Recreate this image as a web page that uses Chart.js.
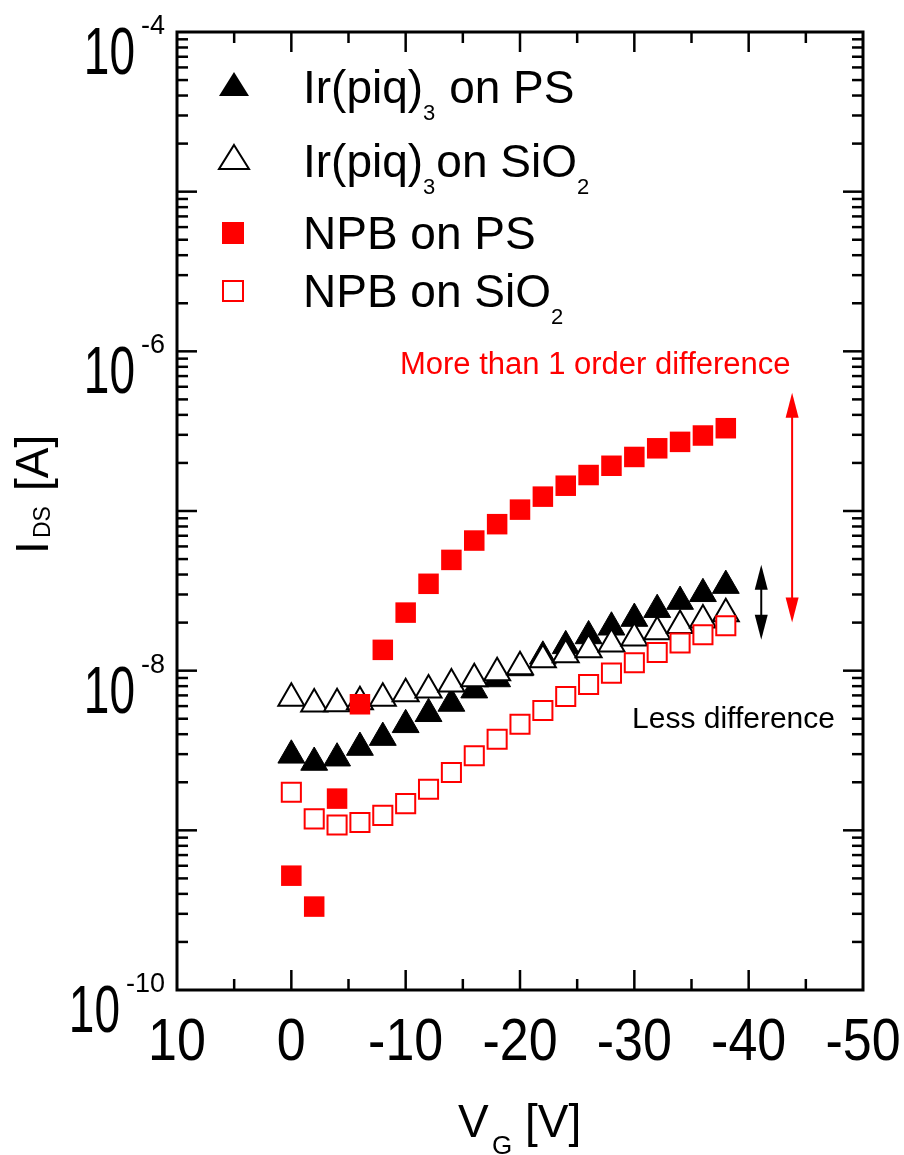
<!DOCTYPE html>
<html><head><meta charset="utf-8">
<script src="https://cdn.jsdelivr.net/npm/chart.js@4.4.1/dist/chart.umd.min.js"></script>
<style>html,body{margin:0;padding:0;background:#fff;}canvas{display:block;}</style>
</head><body>
<canvas id="c" width="904" height="1155"></canvas>
<script>
// ---- data ----
const VG = [0,-2,-4,-6,-8,-10,-12,-14,-16,-18,-20,-22,-24,-26,-28,-30,-32,-34,-36,-38];
const irPS    = [2.95e-9,2.66e-9,2.83e-9,3.3e-9,3.81e-9,4.58e-9,5.37e-9,6.23e-9,7.55e-9,8.87e-9,1.04e-8,1.23e-8,1.43e-8,1.65e-8,1.87e-8,2.12e-8,2.41e-8,2.71e-8,3.03e-8,3.41e-8];
const irSiO2  = [6.73e-9,6.19e-9,6.21e-9,6.38e-9,6.73e-9,7.16e-9,7.58e-9,8.26e-9,8.89e-9,9.72e-9,1.06e-8,1.17e-8,1.26e-8,1.35e-8,1.47e-8,1.6e-8,1.75e-8,1.92e-8,2.08e-8,2.27e-8];
const npbPS   = [5.2e-10,3.33e-10,1.58e-9,6.16e-9,1.35e-8,2.31e-8,3.5e-8,4.94e-8,6.53e-8,8.27e-8,1.02e-7,1.23e-7,1.44e-7,1.68e-7,1.92e-7,2.18e-7,2.47e-7,2.71e-7,2.97e-7,3.3e-7];
const npbSiO2 = [1.73e-9,1.18e-9,1.08e-9,1.12e-9,1.24e-9,1.47e-9,1.81e-9,2.3e-9,2.93e-9,3.72e-9,4.62e-9,5.63e-9,6.89e-9,8.2e-9,9.65e-9,1.12e-8,1.3e-8,1.49e-8,1.68e-8,1.91e-8];
const xTickValues = [10,0,-10,-20,-30,-40,-50];
const xTickLabels = ['10','0','-10','-20','-30','-40','-50'];
const yTickValues = [1e-10,1e-8,1e-6,1e-4];
const yTickExps   = ['-10','-8','-6','-4'];

const FONT = '"Liberation Sans", Arial, Helvetica, sans-serif';
const f = px => px + 'px ' + FONT;
const pts = arr => VG.map((v,i)=>({x:v, y:arr[i]}));

const decor = {
  id:'decor',
  afterDraw(chart){
    const ctx = chart.ctx, xs = chart.scales.x, ys = chart.scales.y, a = chart.chartArea;
    ctx.save();
    ctx.strokeStyle = '#000'; ctx.fillStyle = '#000';
    const ln = (x1,y1,x2,y2)=>{ctx.beginPath();ctx.moveTo(x1,y1);ctx.lineTo(x2,y2);ctx.stroke();};
    // minor/major ticks (inward, all four sides)
    ctx.lineWidth = 2.5;
    for (let d=-10; d<=-5; d++){
      for (let m=1; m<=9; m++){
        const y = ys.getPixelForValue(m*Math.pow(10,d));
        const len = m===1 ? 20 : 11;
        if (m===1 && d===-10) continue;
        ln(a.left,y,a.left+len,y); ln(a.right,y,a.right-len,y);
      }
    }
    for (let v=5; v>-50; v-=5){
      const x = xs.getPixelForValue(v);
      const len = (v%10===0) ? 20 : 11;
      ln(x,a.bottom,x,a.bottom-len); ln(x,a.top,x,a.top+len);
    }
    // frame
    ctx.lineWidth = 3;
    ctx.strokeRect(a.left, a.top, a.right-a.left, a.bottom-a.top);

    // y tick labels 10^n
    ctx.textBaseline = 'alphabetic';
    yTickValues.forEach((v,i)=>{
      const y = ys.getPixelForValue(v);
      const xr = a.left - 12;
      ctx.font = f(27);
      const sw = ctx.measureText(yTickExps[i]).width;
      ctx.textAlign = 'right';
      ctx.fillText(yTickExps[i], xr, y + 2);
      ctx.save();
      ctx.translate(xr - sw - 6, y + 42);
      ctx.scale(1, 1.46);
      ctx.font = f(46);
      ctx.fillText('10', 0, 0);
      ctx.restore();
    });
    // x tick labels
    xTickValues.forEach((v,i)=>{
      const x = xs.getPixelForValue(v);
      ctx.save();
      ctx.translate(x, a.bottom + 70);
      ctx.scale(1, 1.15);
      ctx.font = f(52); ctx.textAlign = 'center';
      ctx.fillText(xTickLabels[i], 0, 0);
      ctx.restore();
    });
    // x title  V_G [V]
    ctx.textAlign = 'left';
    const cx = (a.left + a.right)/2;
    ctx.font = f(46); ctx.fillText('V', cx - 62, 1137);
    ctx.font = f(26); ctx.fillText('G', cx - 28, 1154);
    ctx.font = f(46); ctx.fillText('[V]', cx + 5, 1137);
    // y title  I_DS [A]
    ctx.save();
    ctx.translate(48, 556);
    ctx.rotate(-Math.PI/2);
    ctx.font = f(46); ctx.fillText('I', 2, 0);
    ctx.font = f(23); ctx.fillText('DS', 18, 2);
    ctx.font = f(46); ctx.fillText('[A]', 65, 0);
    ctx.restore();

    // legend
    const tri = (cx, top, bot, hw, filled)=>{
      ctx.beginPath(); ctx.moveTo(cx, top); ctx.lineTo(cx+hw, bot); ctx.lineTo(cx-hw, bot); ctx.closePath();
      if (filled){ctx.fillStyle='#000';ctx.fill();} else {ctx.fillStyle='#fff';ctx.fill();ctx.lineWidth=2;ctx.strokeStyle='#000';ctx.stroke();}
    };
    const sq = (x,y,s,filled)=>{
      if (filled){ctx.fillStyle='#ff0000';ctx.fillRect(x,y,s,s);} else {ctx.lineWidth=2;ctx.strokeStyle='#ff0000';ctx.strokeRect(x+1,y+1,s-2,s-2);}
    };
    tri(234, 72, 96, 15, true);
    tri(234, 145, 169, 15, false);
    sq(222, 222, 22, true);
    sq(222, 280, 22, false);
    ctx.fillStyle = '#000';
    const row = (parts, x, base)=>{
      parts.forEach(p=>{
        ctx.font = f(p.sub ? 22 : 46);
        ctx.fillText(p.t, x, base + (p.sub ? 17 : 0));
        x += ctx.measureText(p.t).width + (p.sub ? 1 : 0);
      });
    };
    row([{t:'Ir(piq)'},{t:'3',sub:true},{t:' on PS'}], 303, 103);
    row([{t:'Ir(piq)'},{t:'3',sub:true},{t:'on SiO'},{t:'2',sub:true}], 303, 177);
    row([{t:'NPB on PS'}], 303, 249);
    row([{t:'NPB on SiO'},{t:'2',sub:true}], 303, 307);

    // annotations
    ctx.fillStyle = '#ff0000'; ctx.font = f(31);
    ctx.fillText('More than 1 order difference', xs.getPixelForValue(-9.5), ys.getPixelForValue(7.2e-7));
    ctx.fillStyle = '#000'; ctx.font = f(30);
    ctx.fillText('Less difference', xs.getPixelForValue(-29.8), ys.getPixelForValue(4.38e-9));
    const arrow = (v, top, bot, col)=>{
      const x = xs.getPixelForValue(v), y1 = ys.getPixelForValue(top), y2 = ys.getPixelForValue(bot);
      const hl = 25, hw = 6.5;
      ctx.strokeStyle = col; ctx.fillStyle = col; ctx.lineWidth = 2;
      ln(x, y1 + hl - 2, x, y2 - hl + 2);
      ctx.beginPath(); ctx.moveTo(x, y1); ctx.lineTo(x+hw, y1+hl); ctx.lineTo(x-hw, y1+hl); ctx.closePath(); ctx.fill();
      ctx.beginPath(); ctx.moveTo(x, y2); ctx.lineTo(x+hw, y2-hl); ctx.lineTo(x-hw, y2-hl); ctx.closePath(); ctx.fill();
    };
    arrow(-43.8, 5.5e-7, 2.0e-8, '#ff0000');
    arrow(-41.1, 4.6e-8, 1.56e-8, '#000');
    ctx.restore();
  }
};

new Chart(document.getElementById('c'), {
  type: 'scatter',
  data: { datasets: [
    {label:'NPB on PS', data: pts(npbPS), pointStyle:'rect', pointRadius:14.5, pointBackgroundColor:'#ff0000', pointBorderColor:'#ff0000', pointBorderWidth:0, order:0, clip:false},
    {label:'NPB on SiO2', data: pts(npbSiO2), pointStyle:'rect', pointRadius:13.5, pointBackgroundColor:'#ffffff', pointBorderColor:'#ff0000', pointBorderWidth:2, order:1, clip:false},
    {label:'Ir(piq)3 on SiO2', data: pts(irSiO2), pointStyle:'triangle', pointRadius:15, pointBackgroundColor:'#ffffff', pointBorderColor:'#000000', pointBorderWidth:2, order:2, clip:false},
    {label:'Ir(piq)3 on PS', data: pts(irPS), pointStyle:'triangle', pointRadius:15.5, pointBackgroundColor:'#000000', pointBorderColor:'#000000', pointBorderWidth:1, order:3, clip:false}
  ]},
  options: {
    responsive:false, animation:false, devicePixelRatio:1,
    layout:{padding:{top:32, right:41, left:0, bottom:0}},
    plugins:{legend:{display:false}, tooltip:{enabled:false}},
    events: [],
    scales:{
      x:{type:'linear', min:-50, max:10, reverse:true, grid:{display:false}, border:{display:false}, ticks:{display:false}, afterFit(s){s.height=165;}},
      y:{type:'logarithmic', min:1e-10, max:1e-4, grid:{display:false}, border:{display:false}, ticks:{display:false}, afterFit(s){s.width=177;}}
    }
  },
  plugins:[decor]
});
</script>
</body></html>
